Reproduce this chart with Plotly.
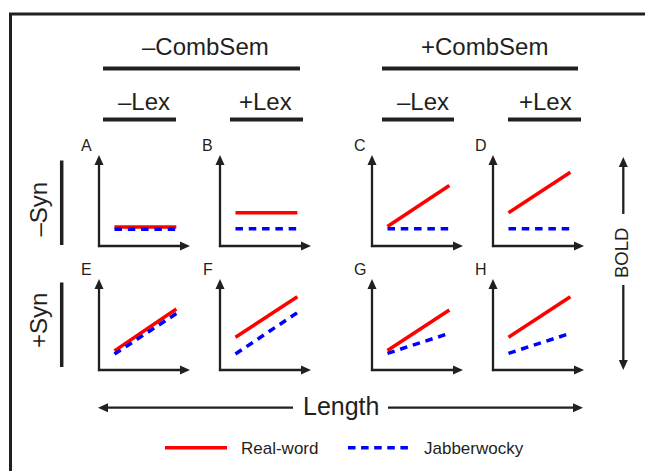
import math
import plotly.graph_objects as go

# ---------------- data (schematic predictions) ----------------
panels = ["A", "B", "C", "D", "E", "F", "G", "H"]
length_pts = [1.7, 8.5]
real_word = {
    "A": [2.1, 2.1], "B": [3.65, 3.65], "C": [2.15, 6.65], "D": [3.65, 8.1],
    "E": [2.1, 6.7], "F": [3.6, 8.05], "G": [2.15, 6.6], "H": [3.6, 8.05],
}
jabberwocky = {
    "A": [1.85, 1.85], "B": [1.9, 1.9], "C": [1.9, 1.9], "D": [1.9, 1.9],
    "E": [1.75, 6.2], "F": [1.76, 6.3], "G": [1.83, 4.03], "H": [1.83, 4.03],
}
col_labels_top = ["–CombSem", "+CombSem"]
col_labels_sub = ["–Lex", "+Lex", "–Lex", "+Lex"]
row_labels = ["–Syn", "+Syn"]
series_names = ["Real-word", "Jabberwocky"]

# ---------------- layout geometry ----------------
W, H = 645, 471
FONT = "Liberation Sans, Arial, sans-serif"
DARK = "#231f20"
RED = "#ff0000"
BLUE = "#0000ff"
col_x = [99, 220, 372, 493]
row_y = [246, 370]
PSIZE = 91

fig = go.Figure()
shapes = []
annotations = []


def line(x0, y0, x1, y1, w=2.3, color=DARK, dash=None):
    d = dict(type="line", xref="x", yref="y", x0=x0, y0=y0, x1=x1, y1=y1,
             line=dict(color=color, width=w))
    if dash:
        d["line"]["dash"] = dash
    shapes.append(d)


def arrow(x0, y0, x1, y1, w=2.3, hl=10, hw=9):
    dx, dy = x1 - x0, y1 - y0
    L = math.hypot(dx, dy)
    ux, uy = dx / L, dy / L
    px, py = -uy, ux
    bx, by = x1 - ux * hl, y1 - uy * hl
    line(x0, y0, bx + ux * 1.5, by + uy * 1.5, w=w)
    path = "M{:.2f},{:.2f} L{:.2f},{:.2f} L{:.2f},{:.2f} Z".format(
        x1, y1, bx + px * hw / 2, by + py * hw / 2, bx - px * hw / 2, by - py * hw / 2)
    shapes.append(dict(type="path", xref="x", yref="y", path=path,
                       fillcolor=DARK, line=dict(width=0)))


def text(t, x, y, size, xanchor="center", angle=0, yanchor="middle"):
    annotations.append(dict(text=t, x=x, y=y, xref="x", yref="y", showarrow=False,
                            xanchor=xanchor, yanchor=yanchor, textangle=angle,
                            font=dict(family=FONT, size=size, color=DARK)))


# overlay pixel axis
fig.update_layout(
    xaxis=dict(range=[0, W], domain=[0, 1], visible=False, fixedrange=True),
    yaxis=dict(range=[H, 0], domain=[0, 1], visible=False, fixedrange=True),
)

# border
line(10.5, 14, 10.5, H + 5, w=3)
line(9, 14, W + 5, 14, w=3)

# column headers
text(col_labels_top[0], 205, 46, 24)
text(col_labels_top[1], 484, 46, 24)
line(103, 68.5, 300, 68.5, w=4)
line(382, 68.5, 578, 68.5, w=4)
sub_x = [144, 265.5, 423, 545]
sub_bars = [(103, 176), (230, 303), (382, 454), (508, 581)]
for t, cx, (a, b) in zip(col_labels_sub, sub_x, sub_bars):
    text(t, cx, 101, 24)
    line(a, 119.5, b, 119.5, w=4)

# row headers
text(row_labels[0], 38, 209.5, 24, angle=-90)
text(row_labels[1], 38, 321, 24, angle=-90)
line(61.7, 160.5, 61.7, 245, w=3.5)
line(61.7, 282.5, 61.7, 367, w=3.5)

# panels
for i, p in enumerate(panels):
    r, c = divmod(i, 4)
    ox, oy = col_x[c], row_y[r]
    k = i + 2
    xa, ya = "xaxis%d" % k, "yaxis%d" % k
    fig.update_layout(**{
        xa: dict(domain=[ox / W, (ox + PSIZE) / W], range=[0, 10], visible=False,
                 anchor="y%d" % k, fixedrange=True),
        ya: dict(domain=[1 - oy / H, 1 - (oy - PSIZE) / H], range=[0, 10], visible=False,
                 anchor="x%d" % k, fixedrange=True),
    })
    fig.add_trace(go.Scatter(x=length_pts, y=real_word[p], mode="lines",
                             line=dict(color=RED, width=3.5), showlegend=False,
                             xaxis="x%d" % k, yaxis="y%d" % k, hoverinfo="skip"))
    fig.add_trace(go.Scatter(x=length_pts, y=jabberwocky[p], mode="lines",
                             line=dict(color=BLUE, width=3.5, dash="7.5px,5.8px"),
                             showlegend=False, xaxis="x%d" % k, yaxis="y%d" % k,
                             hoverinfo="skip"))
    # axes arrows
    arrow(ox - 1.1, oy, ox + PSIZE, oy)
    arrow(ox, oy + 1.1, ox, oy - PSIZE)
    text(p, ox - 12.5, oy - 101, 16)

# BOLD arrow
arrow(623.3, 214, 623.3, 157)
arrow(623.3, 285, 623.3, 370)
text("BOLD", 621, 253, 18.5, angle=-90)

# Length arrow
arrow(293, 407.7, 98, 407.7)
arrow(388, 407.7, 583, 407.7)
text("Length", 341, 406, 25)

# legend
line(165, 447.7, 227, 447.7, w=3.5, color=RED)
text(series_names[0], 239, 448, 17, xanchor="left")
line(348, 447.7, 408, 447.7, w=3.5, color=BLUE, dash="7.5px,5.6px")
text(series_names[1], 422, 448, 17, xanchor="left")

fig.update_layout(
    width=W, height=H, autosize=False,
    margin=dict(l=0, r=0, t=0, b=0, pad=0),
    paper_bgcolor="white", plot_bgcolor="white",
    shapes=shapes, annotations=annotations,
    showlegend=False,
)

fig.write_html("out.html", config={"displayModeBar": False, "staticPlot": True})
